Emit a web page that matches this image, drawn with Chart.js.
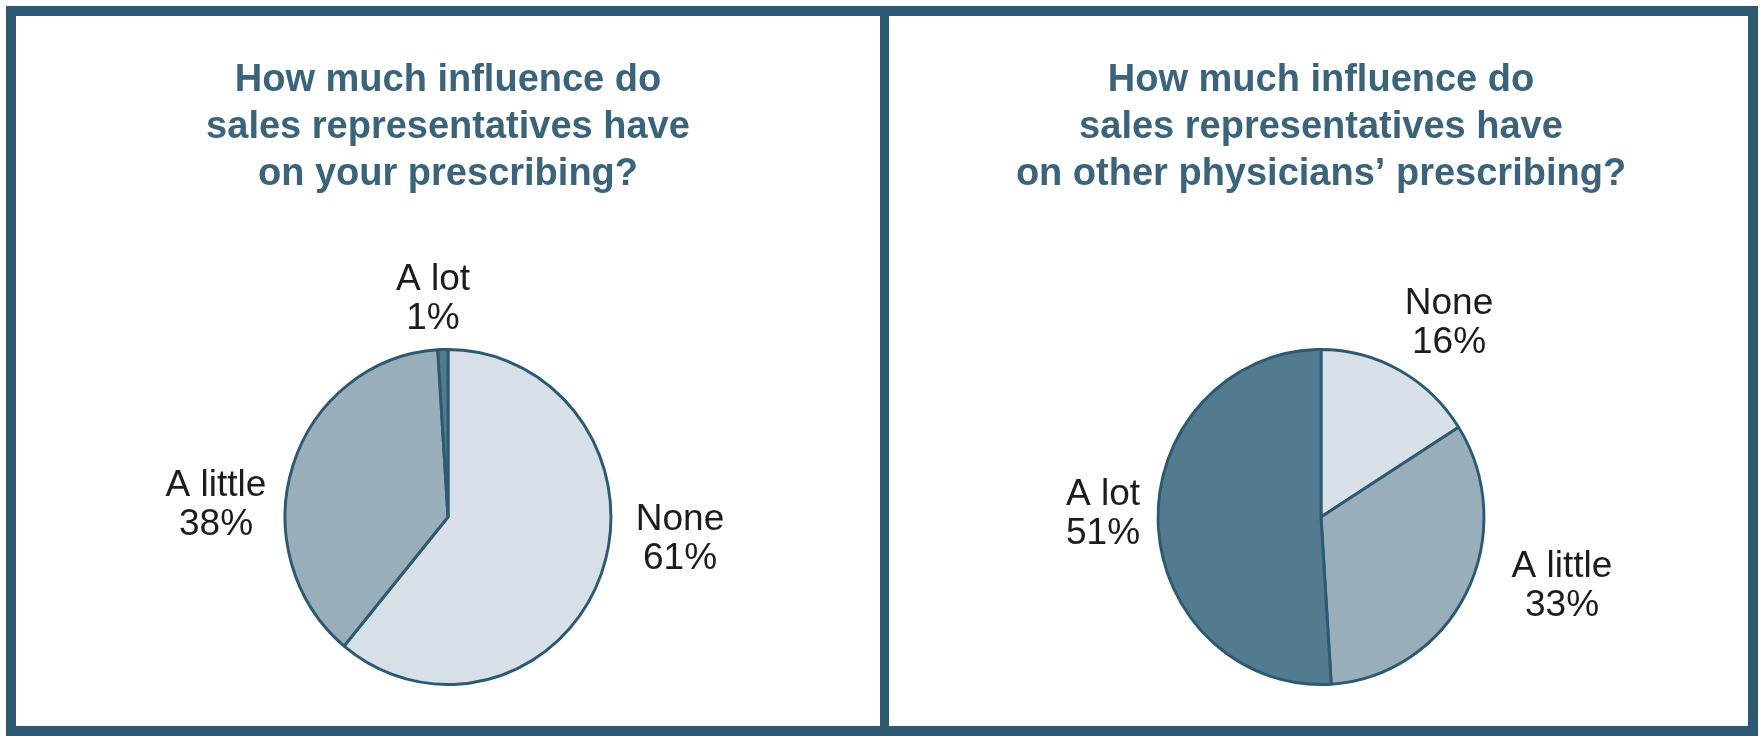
<!DOCTYPE html>
<html>
<head>
<meta charset="utf-8">
<script src="https://cdn.jsdelivr.net/npm/chart.js@4.4.0/dist/chart.umd.min.js"></script>
<style>
  body { margin: 0; background: #fff; width: 1763px; height: 736px; overflow: hidden; position: relative; }
  #frame { position: absolute; left: 6px; top: 6px; width: 1752px; height: 730px; box-sizing: border-box; border: 10px solid #2c5a72; }
  #divider { position: absolute; left: 880px; top: 6px; width: 9px; height: 730px; background: #2c5a72; }
  .box { position: absolute; top: 16px; height: 710px; }
</style>
</head>
<body>
<div id="frame"></div>
<div id="divider"></div>
<div class="box" style="left:16px;width:864px"><canvas id="ownChart"></canvas></div>
<div class="box" style="left:889px;width:859px"><canvas id="otherChart"></canvas></div>
<script>
// survey answers, same order in both pies
const categories = ['None', 'A little', 'A lot'];
const ownValues = [61, 38, 1];
const otherValues = [16, 33, 51];

const ownTitle = ['How much influence do', 'sales representatives have', 'on your prescribing?'];
const otherTitle = ['How much influence do', 'sales representatives have', 'on other physicians\u2019 prescribing?'];

const sliceColors = ['#d6e0e6', '#98afbb', '#527b8f'];
const edgeColor = '#2d5a70';

// where each label block sits, relative to the pie centre (px)
const ownLabelAt = [[232, 22], [-232, -12], [-15, -218]];
const otherLabelAt = [[128, -194], [241, 69], [-218, -3]];

// pies in the original are a touch narrower than tall
const squash = 0.973;

const ovalPlugin = {
    id: 'oval',
    beforeDatasetsDraw(chart) {
        const arc = chart.getDatasetMeta(0).data[0];
        const ctx = chart.ctx;
        ctx.save();
        ctx.translate(arc.x, arc.y);
        ctx.scale(squash, 1);
        ctx.translate(-arc.x, -arc.y);
    },
    afterDatasetsDraw(chart) {
        chart.ctx.restore();
    }
};

const labelPlugin = {
    id: 'sliceLabels',
    afterDraw(chart, args, opts) {
        const ctx = chart.ctx;
        const meta = chart.getDatasetMeta(0);
        const values = chart.data.datasets[0].data;
        ctx.save();
        ctx.font = '37px "Liberation Sans", Arial, sans-serif';
        ctx.fillStyle = '#1c1c1c';
        ctx.textAlign = 'center';
        ctx.textBaseline = 'middle';
        meta.data.forEach((arc, i) => {
            const x = arc.x + opts.at[i][0];
            const y = arc.y + opts.at[i][1];
            ctx.fillText(chart.data.labels[i], x, y - 19.5);
            ctx.fillText(values[i] + '%', x, y + 19.5);
        });
        ctx.restore();
    }
};

function makePie(canvasId, values, title, labelAt, padLeft) {
    const ctx = document.getElementById(canvasId).getContext('2d');
    return new Chart(ctx, {
        type: 'pie',
        data: {
            labels: categories,
            datasets: [{
                data: values,
                backgroundColor: sliceColors,
                borderColor: edgeColor,
                borderWidth: 3
            }]
        },
        options: {
            responsive: true,
            maintainAspectRatio: false,
            animation: false,
            layout: { padding: { top: 0, bottom: 40, left: padLeft, right: 0 } },
            plugins: {
                legend: { display: false },
                tooltip: { enabled: false },
                title: {
                    display: true,
                    text: title,
                    color: '#3b6379',
                    font: { family: '"Liberation Sans", Arial, sans-serif', size: 38, weight: 'bold', lineHeight: 1.224 },
                    padding: { top: 41.75, bottom: 150.75 }
                },
                sliceLabels: { at: labelAt }
            }
        },
        plugins: [ovalPlugin, labelPlugin]
    });
}

makePie('ownChart', ownValues, ownTitle, ownLabelAt, 0);
makePie('otherChart', otherValues, otherTitle, otherLabelAt, 5);
</script>
</body>
</html>
